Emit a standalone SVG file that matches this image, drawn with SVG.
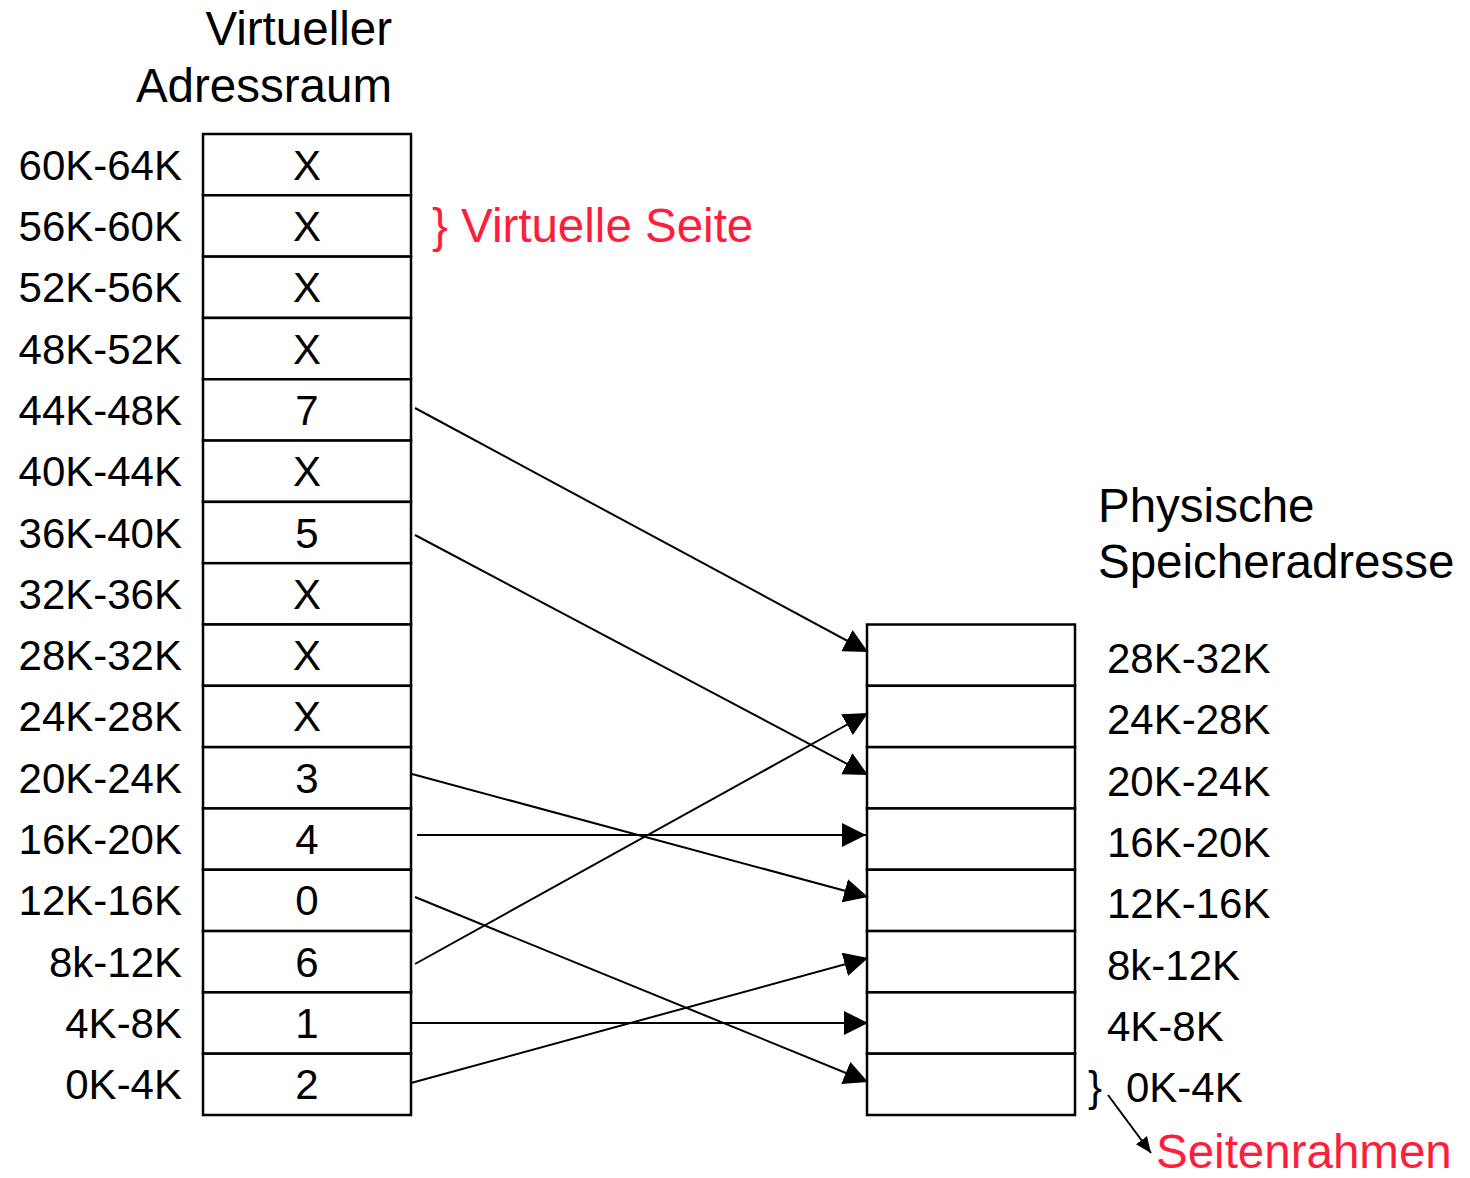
<svg xmlns="http://www.w3.org/2000/svg" width="1470" height="1178" viewBox="0 0 1470 1178">
<style>
text{font-family:"Liberation Sans",Arial,sans-serif;fill:#000}
.lbl{font-size:42px}
.lr{text-anchor:end}
.cell{font-size:42px;text-anchor:middle}
.title{font-size:47.5px}
.red{fill:#ff1d3c}
rect{fill:#fff;stroke:#000;stroke-width:2.5}
.conn line{stroke:#000;stroke-width:2}
</style>
<defs>
<marker id="ah" markerUnits="userSpaceOnUse" markerWidth="24" markerHeight="24" viewBox="0 0 22 22" refX="22" refY="11" orient="auto"><path d="M0,0 L22,11 L0,22 z" fill="#000"/></marker>
<marker id="ahs" markerUnits="userSpaceOnUse" markerWidth="16" markerHeight="16" viewBox="0 0 14 12" refX="14" refY="6" orient="auto"><path d="M0,0 L14,6 L0,12 z" fill="#000"/></marker>
</defs>

<g id="title-virtual">
<text class="title" x="392" y="45" text-anchor="end">Virtueller</text>
<text class="title" x="392" y="102" text-anchor="end">Adressraum</text>
</g>
<g id="title-physical">
<text class="title" x="1098" y="522">Physische</text>
<text class="title" x="1098" y="578">Speicheradresse</text>
</g>
<g id="label-virtuelle-seite">
<text class="red" x="432" y="242" font-size="47.5">} Virtuelle Seite</text>
</g>

<g id="virtual-pages">
<g id="v60"><rect x="203" y="134" width="208" height="61.31"/><text class="lbl lr" x="182" y="180">60K-64K</text><text class="cell" x="307" y="180">X</text></g>
<g id="v56"><rect x="203" y="195.31" width="208" height="61.31"/><text class="lbl lr" x="182" y="241">56K-60K</text><text class="cell" x="307" y="241">X</text></g>
<g id="v52"><rect x="203" y="256.63" width="208" height="61.31"/><text class="lbl lr" x="182" y="302">52K-56K</text><text class="cell" x="307" y="302">X</text></g>
<g id="v48"><rect x="203" y="317.94" width="208" height="61.31"/><text class="lbl lr" x="182" y="364">48K-52K</text><text class="cell" x="307" y="364">X</text></g>
<g id="v44"><rect x="203" y="379.25" width="208" height="61.31"/><text class="lbl lr" x="182" y="425">44K-48K</text><text class="cell" x="307" y="425">7</text></g>
<g id="v40"><rect x="203" y="440.56" width="208" height="61.31"/><text class="lbl lr" x="182" y="486">40K-44K</text><text class="cell" x="307" y="486">X</text></g>
<g id="v36"><rect x="203" y="501.88" width="208" height="61.31"/><text class="lbl lr" x="182" y="548">36K-40K</text><text class="cell" x="307" y="548">5</text></g>
<g id="v32"><rect x="203" y="563.19" width="208" height="61.31"/><text class="lbl lr" x="182" y="609">32K-36K</text><text class="cell" x="307" y="609">X</text></g>
<g id="v28"><rect x="203" y="624.5" width="208" height="61.31"/><text class="lbl lr" x="182" y="670">28K-32K</text><text class="cell" x="307" y="670">X</text></g>
<g id="v24"><rect x="203" y="685.81" width="208" height="61.31"/><text class="lbl lr" x="182" y="731">24K-28K</text><text class="cell" x="307" y="731">X</text></g>
<g id="v20"><rect x="203" y="747.13" width="208" height="61.31"/><text class="lbl lr" x="182" y="793">20K-24K</text><text class="cell" x="307" y="793">3</text></g>
<g id="v16"><rect x="203" y="808.44" width="208" height="61.31"/><text class="lbl lr" x="182" y="854">16K-20K</text><text class="cell" x="307" y="854">4</text></g>
<g id="v12"><rect x="203" y="869.75" width="208" height="61.31"/><text class="lbl lr" x="182" y="915">12K-16K</text><text class="cell" x="307" y="915">0</text></g>
<g id="v8"><rect x="203" y="931.06" width="208" height="61.31"/><text class="lbl lr" x="182" y="977">8k-12K</text><text class="cell" x="307" y="977">6</text></g>
<g id="v4"><rect x="203" y="992.38" width="208" height="61.31"/><text class="lbl lr" x="182" y="1038">4K-8K</text><text class="cell" x="307" y="1038">1</text></g>
<g id="v0"><rect x="203" y="1053.69" width="208" height="61.31"/><text class="lbl lr" x="182" y="1099">0K-4K</text><text class="cell" x="307" y="1099">2</text></g>
</g>

<g id="physical-frames">
<g id="p28"><rect x="867" y="624.5" width="208" height="61.31"/><text class="lbl" x="1107" y="673">28K-32K</text></g>
<g id="p24"><rect x="867" y="685.81" width="208" height="61.31"/><text class="lbl" x="1107" y="734">24K-28K</text></g>
<g id="p20"><rect x="867" y="747.13" width="208" height="61.31"/><text class="lbl" x="1107" y="796">20K-24K</text></g>
<g id="p16"><rect x="867" y="808.44" width="208" height="61.31"/><text class="lbl" x="1107" y="857">16K-20K</text></g>
<g id="p12"><rect x="867" y="869.75" width="208" height="61.31"/><text class="lbl" x="1107" y="918">12K-16K</text></g>
<g id="p8"><rect x="867" y="931.06" width="208" height="61.31"/><text class="lbl" x="1107" y="980">8k-12K</text></g>
<g id="p4"><rect x="867" y="992.38" width="208" height="61.31"/><text class="lbl" x="1107" y="1041">4K-8K</text></g>
<g id="p0"><rect x="867" y="1053.69" width="208" height="61.31"/><text class="lbl" x="1088" y="1101">}</text><text class="lbl" x="1126" y="1102">0K-4K</text></g>
</g>

<g id="label-seitenrahmen">
<text class="red" x="1156" y="1168" font-size="47.5">Seitenrahmen</text>
</g>

<g class="conn" id="connectors">
<line x1="415" y1="408" x2="868" y2="652" marker-end="url(#ah)"/>
<line x1="415" y1="535" x2="868" y2="775" marker-end="url(#ah)"/>
<line x1="412" y1="774" x2="868" y2="897" marker-end="url(#ah)"/>
<line x1="417" y1="835" x2="866" y2="835" marker-end="url(#ah)"/>
<line x1="415" y1="897" x2="868" y2="1082" marker-end="url(#ah)"/>
<line x1="415" y1="964" x2="868" y2="713" marker-end="url(#ah)"/>
<line x1="411" y1="1023" x2="868" y2="1023" marker-end="url(#ah)"/>
<line x1="411" y1="1083" x2="868" y2="958" marker-end="url(#ah)"/>
<line x1="1108" y1="1095" x2="1151" y2="1153" marker-end="url(#ahs)"/>
</g>
</svg>
